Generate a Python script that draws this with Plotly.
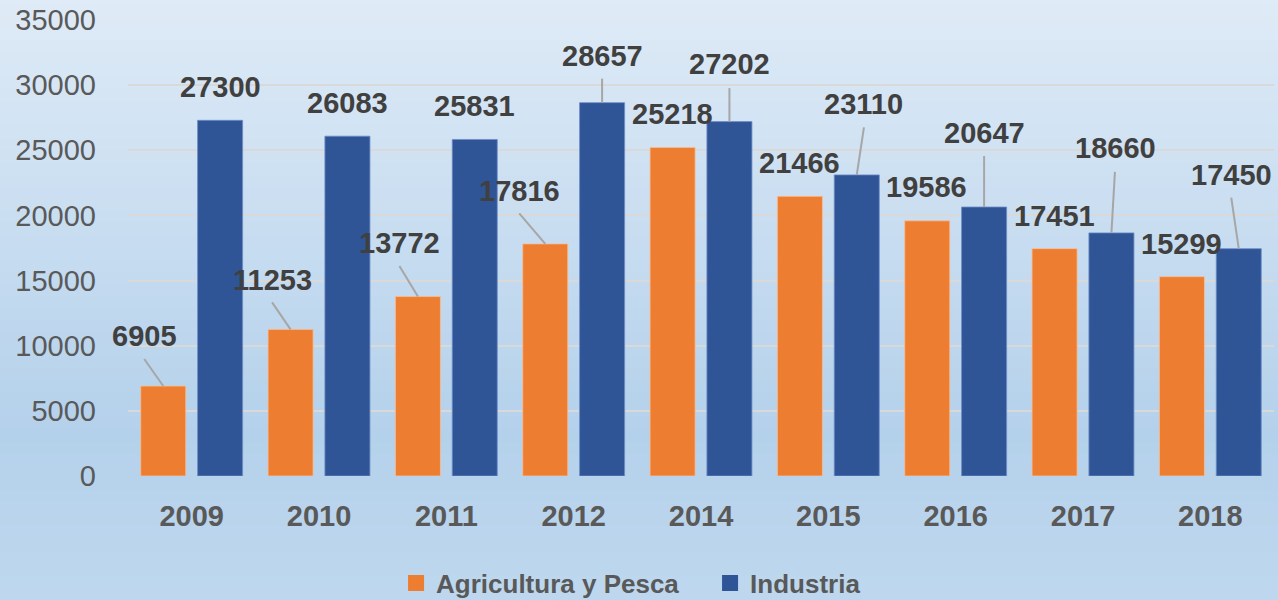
import plotly.graph_objects as go

years = ["2009", "2010", "2011", "2012", "2014", "2015", "2016", "2017", "2018"]
agricultura = [6905, 11253, 13772, 17816, 25218, 21466, 19586, 17451, 15299]
industria = [27300, 26083, 25831, 28657, 27202, 23110, 20647, 18660, 17450]
y_ticks = [0, 5000, 10000, 15000, 20000, 25000, 30000, 35000]
y_tick_labels = ["0", "5000", "10000", "15000", "20000", "25000", "30000", "35000"]

ORANGE = "#ED7D31"
BLUE = "#2F5597"
FONT = "Liberation Sans"

# label placement (pixel offsets from bar top: text dx, dy, leader line end lx, ly)
agri_lab = [(-19, 50, -19, 27), (-18, 49, -18.5, 27), (-18, 54, -18.5, 30.5), (-25.5, 53, -26, 30.5),
            (0, 33, None, None), (0, 33, None, None), (-0.5, 33.5, None, None), (0, 32.5, None, None),
            (0, 33, None, None)]
ind_lab = [(0, 33, None, None), (0, 33, None, None), (0, 33, None, None), (0, 46.5, 0, 24),
           (0, 57.5, 0, 33.5), (7, 71, 7.2, 47.5), (0, 74, 0, 51), (4, 84.5, 3.5, 61),
           (-7.5, 73.5, -7.5, 51)]

BARGAP = 0.107
BARGROUPGAP = 0.208
idx = list(range(len(years)))
off = (1 - BARGAP) / 4.0  # centre offset of each bar within the group

fig = go.Figure()
fig.add_trace(go.Bar(x=idx, y=agricultura, name="Agricultura y Pesca", marker_color=ORANGE,
                     marker_line=dict(color="rgba(248,190,150,0.8)", width=1),
                     showlegend=False))
fig.add_trace(go.Bar(x=idx, y=industria, name="Industria", marker_color=BLUE,
                     marker_line=dict(color="rgba(110,140,200,0.8)", width=1),
                     showlegend=False))
# legend entries with larger square swatches
fig.add_trace(go.Scatter(x=[None], y=[None], mode="markers", name="<b>Agricultura y Pesca</b>",
                         marker=dict(symbol="square", size=16, color=ORANGE)))
fig.add_trace(go.Scatter(x=[None], y=[None], mode="markers", name="<b>Industria</b>",
                         marker=dict(symbol="square", size=16, color=BLUE)))

shapes = []
# gradient background
stops = [(0.0, (235, 242, 250)), (0.75, (180, 209, 235)), (1.0, (191, 216, 238))]
N = 60
def col_at(t):
    for (t0, c0), (t1, c1) in zip(stops[:-1], stops[1:]):
        if t0 <= t <= t1:
            f = (t - t0) / (t1 - t0) if t1 > t0 else 0
            return tuple(round(a + (b - a) * f) for a, b in zip(c0, c1))
    return stops[-1][1]
for k in range(N):
    t = (k + 0.5) / N
    c = col_at(t)
    shapes.append(dict(type="rect", xref="paper", yref="paper", x0=-0.2, x1=1.2,
                       y0=1 + 0.3 - (k + 1) * 1.6 / N, y1=1 + 0.3 - k * 1.6 / N + 0.002,
                       fillcolor="rgb(%d,%d,%d)" % c, line=dict(width=0), layer="below"))

annotations = []
for series, labs, sign in ((agricultura, agri_lab, -1), (industria, ind_lab, 1)):
    for i, (v, (dx, dy, lx, ly)) in enumerate(zip(series, labs)):
        xc = i + sign * off
        annotations.append(dict(x=xc, y=v, xref="x", yref="y", text="<b>%d</b>" % v,
                                showarrow=False, xshift=dx, yshift=dy,
                                font=dict(family=FONT, size=29, color="#404040")))
        if lx is not None:
            shapes.append(dict(type="line", xref="x", yref="y", xsizemode="pixel",
                               ysizemode="pixel", xanchor=xc, yanchor=v,
                               x0=0, x1=lx, y0=0, y1=ly,
                               line=dict(color="#A6A6A6", width=2), layer="above"))

fig.update_layout(
    width=1278, height=600,
    margin=dict(l=128, r=4, t=20, b=124),
    paper_bgcolor="#BFD8EE",
    plot_bgcolor="rgba(0,0,0,0)",
    barmode="group", bargap=BARGAP, bargroupgap=BARGROUPGAP,
    shapes=shapes, annotations=annotations,
    legend=dict(orientation="h", xref="container", yref="container", x=0.5556, y=0.028,
                xanchor="center", yanchor="middle", bgcolor="rgba(0,0,0,0)",
                font=dict(family=FONT, size=26, color="#595959"), itemwidth=30,
                entrywidth=269, entrywidthmode="pixels",
                traceorder="normal"),
    font=dict(family=FONT),
)
fig.update_xaxes(tickmode="array", tickvals=idx, ticktext=["<b>%s</b>" % y for y in years],
                 range=[-0.5, len(years) - 0.5], showgrid=False, zeroline=False,
                 showline=False, ticks="", ticklabelstandoff=20,
                 tickfont=dict(family=FONT, size=29, color="#595959"))
fig.update_yaxes(range=[0, 35000], tickmode="array", tickvals=y_ticks, ticktext=y_tick_labels,
                 showgrid=True, gridcolor="#D9D9D9", gridwidth=2, zeroline=False,
                 showline=False, ticks="", ticklabelstandoff=31,
                 tickfont=dict(family=FONT, size=29, color="#595959"))

fig.write_html("out.html", config={"displayModeBar": False},
               post_script="document.body.style.margin='0';")
